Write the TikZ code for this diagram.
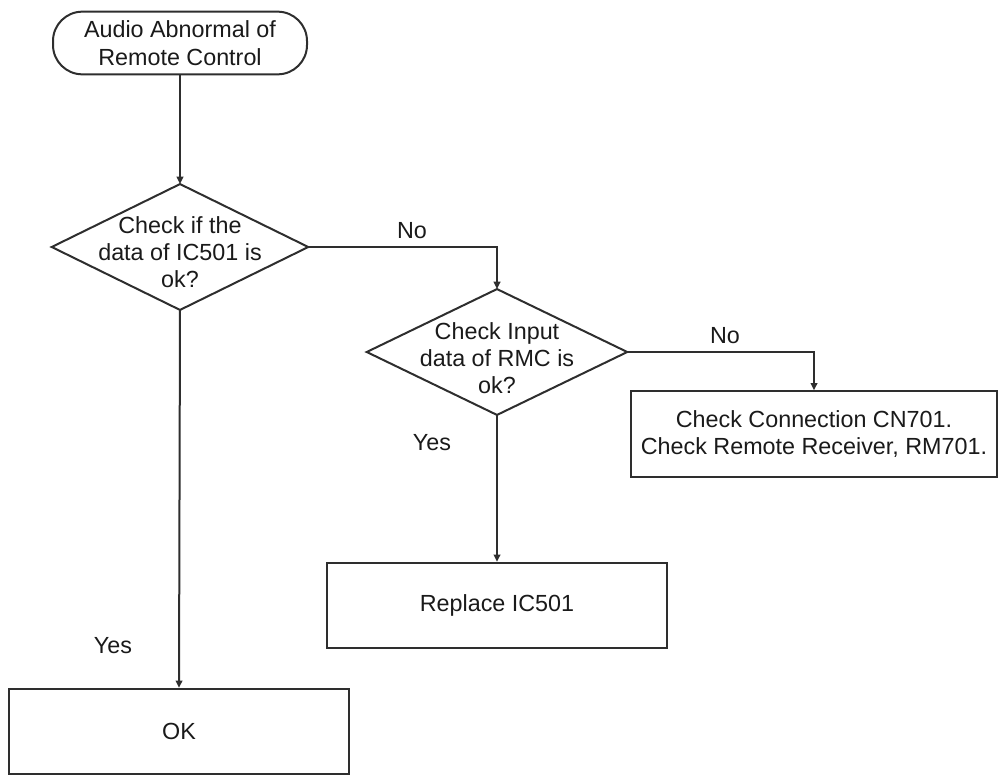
\documentclass[tikz,border=0pt]{standalone}
\usepackage{fontspec}
\setmainfont{Liberation Sans}
\usetikzlibrary{arrows.meta}
\definecolor{ln}{HTML}{2E2E2E}
\definecolor{tx}{HTML}{1A1A1A}
\begin{document}
\begin{tikzpicture}[x=0.75pt,y=-0.75pt,
  every node/.style={font=\fontsize{17.5}{20.5}\selectfont, text=tx},
  base/.style={draw=ln, line width=1.5pt, align=center, inner sep=0pt},
  term/.style={base, rounded corners=22pt, minimum width=190.5pt, minimum height=47pt},
  decbox/.style={inner sep=0pt, rectangle},
  dectext/.style={align=center, inner sep=0pt},
  decline/.style={draw=ln, line width=1.5pt, line join=miter},
  proc/.style={base, rectangle, minimum width=255pt, minimum height=64pt},
  arr/.style={draw=ln, line width=1.5pt, -{Triangle[length=5.5pt,width=5pt]}},
  lbl/.style={inner sep=0pt}
]
\useasboundingbox (0,0) rectangle (1006,778);
\node[term] (start) at (180,43) {Audio Abnormal of\\Remote Control};
\node[decbox, minimum width=192pt, minimum height=94pt] (d1) at (180,247) {};
\node[decbox, minimum width=195pt, minimum height=94pt] (d2) at (497,352) {};
\draw[decline] (d1.north) -- (d1.east) -- (d1.south) -- (d1.west) -- cycle;
\draw[decline] (d2.north) -- (d2.east) -- (d2.south) -- (d2.west) -- cycle;
\node[dectext] (d1t) at (180,252) {Check if the\\data of IC501 is\\ok?};
\node[dectext] (d2t) at (497,358) {Check Input\\data of RMC is\\ok?};
\node[proc, minimum width=274pt] (cn) at (814,434) {Check Connection CN701.\\Check Remote Receiver, RM701.};
\node[proc] (rep) at (497,605.5) {Replace IC501};
\node[proc] (ok) at (179,731.5) {OK};
\node[lbl] (no1) at (412,231) {No};
\node[lbl] (no2) at (725,336) {No};
\node[lbl] (yes2) at (432,443) {Yes};
\node[lbl] (yes1) at (113,646) {Yes};
\draw[arr] (start.south) -- (d1.north);
\draw[arr] (d1.east) -| (d2.north);
\draw[arr] (d2.east) -| (cn.north);
\draw[arr] (d2.south) -- (rep.north);
\draw[arr] (d1.south) -- (ok.north);
\end{tikzpicture}
\end{document}
